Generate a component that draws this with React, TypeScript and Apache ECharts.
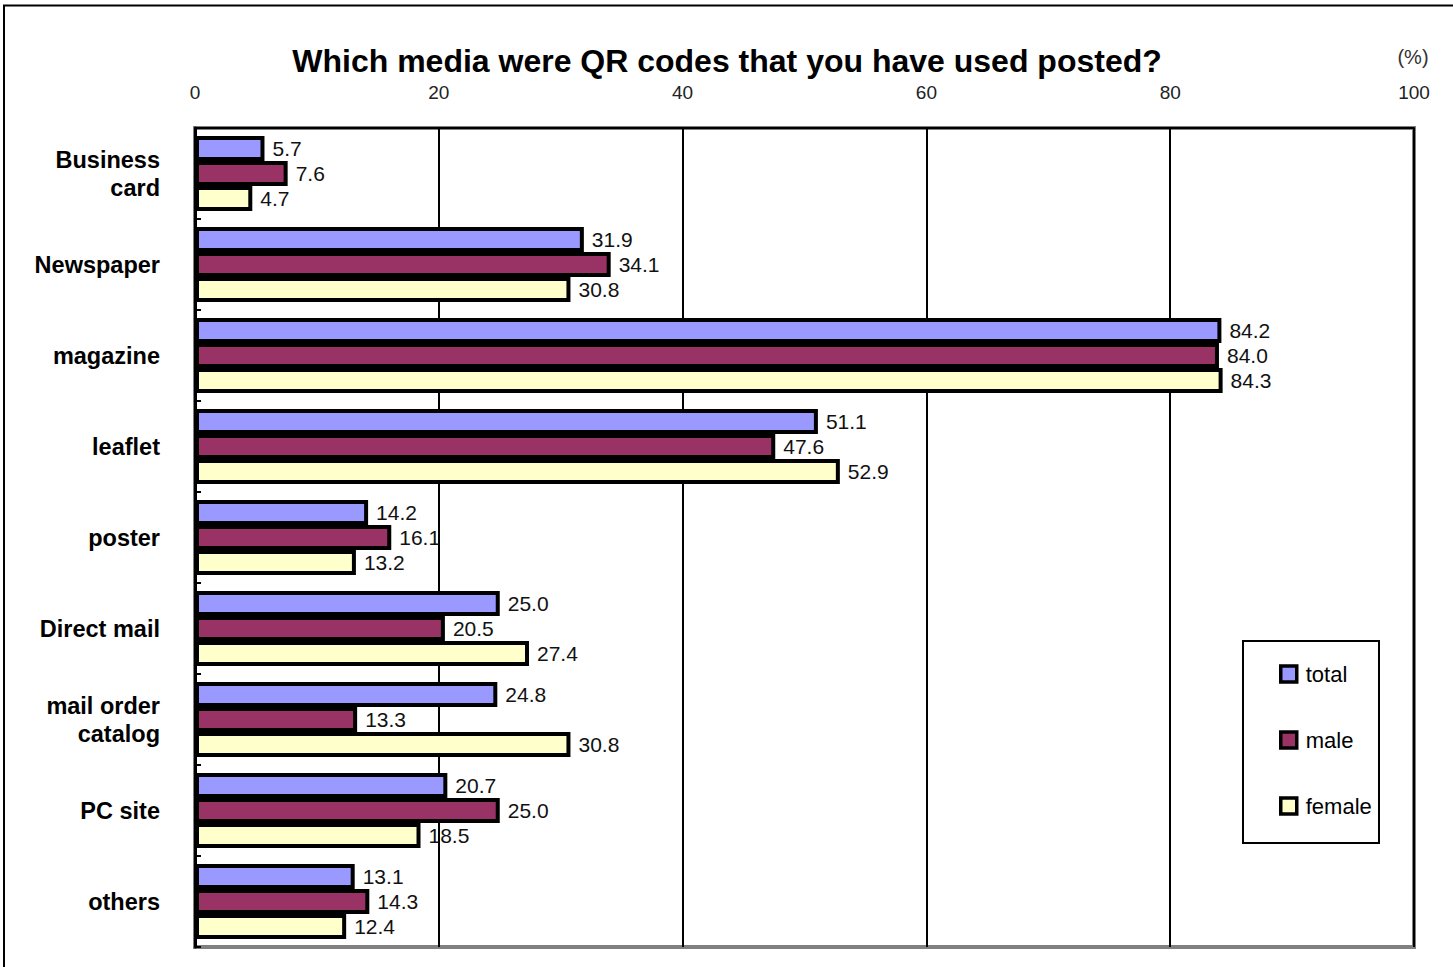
import React, { useEffect, useRef } from "react";
import * as echarts from "echarts";

const categories = [
  "Business\ncard",
  "Newspaper",
  "magazine",
  "leaflet",
  "poster",
  "Direct mail",
  "mail order\ncatalog",
  "PC site",
  "others",
];
const totalValues = [5.7, 31.9, 84.2, 51.1, 14.2, 25.0, 24.8, 20.7, 13.1];
const maleValues = [7.6, 34.1, 84.0, 47.6, 16.1, 20.5, 13.3, 25.0, 14.3];
const femaleValues = [4.7, 30.8, 84.3, 52.9, 13.2, 27.4, 30.8, 18.5, 12.4];
const seriesNames = ["total", "male", "female"];
const seriesColors = ["#9999FF", "#993366", "#FFFFCC"];
const titleText = "Which media were QR codes that you have used posted?";
const unitText = "(%)";

export default function App() {
  const ref = useRef<HTMLDivElement>(null);
  useEffect(() => {
    if (!ref.current) return;
    const chart = echarts.init(ref.current, null, { renderer: "svg" });
    const dataSets = [totalValues, maleValues, femaleValues];
    const series = dataSets.map((d, i) => ({
      name: seriesNames[i],
      type: "bar",
      data: d,
      barWidth: 25,
      barGap: "0%",
      itemStyle: { color: seriesColors[i], borderColor: "#000", borderWidth: 4 },
      label: {
        show: true,
        position: "right",
        distance: 8,
        formatter: (p: any) => Number(p.value).toFixed(1),
        fontFamily: "Liberation Sans, Arial, sans-serif",
        fontSize: 21,
        color: "#111",
      },
      z: 3,
    }));
    chart.setOption({
      animation: false,
      backgroundColor: "#fff",
      title: {
        text: titleText,
        left: 722,
        textAlign: "center",
        top: 40,
        textStyle: {
          fontFamily: "Liberation Sans, Arial, sans-serif",
          fontSize: 32,
          fontWeight: "bold",
          color: "#000",
        },
      },
      legend: {
        orient: "vertical",
        left: 1274,
        top: 658,
        itemWidth: 16,
        itemHeight: 16,
        itemGap: 44,
        data: seriesNames,
        icon: "rect",
        itemStyle: { borderColor: "#000", borderWidth: 3.5 },
        textStyle: {
          fontFamily: "Liberation Sans, Arial, sans-serif",
          fontSize: 22,
          color: "#000",
          padding: [0, 0, 0, 4],
        },
        z: 10,
      },
      grid: {
        left: 195,
        top: 128,
        width: 1219,
        height: 819,
        show: true,
        borderColor: "#808080",
        borderWidth: 4,
        backgroundColor: "transparent",
      },
      xAxis: {
        type: "value",
        position: "top",
        min: 0,
        max: 100,
        interval: 20,
        axisLine: { show: true, lineStyle: { color: "#000", width: 2 } },
        axisTick: { show: false },
        axisLabel: {
          margin: 26,
          fontFamily: "Liberation Sans, Arial, sans-serif",
          fontSize: 19,
          color: "#222",
        },
        splitLine: { show: true, lineStyle: { color: "#000", width: 2 } },
      },
      yAxis: {
        type: "category",
        inverse: true,
        data: categories,
        axisLine: { show: true, lineStyle: { color: "#000", width: 3 } },
        axisTick: { show: true, inside: true, length: 6, lineStyle: { color: "#000", width: 2 } },
        axisLabel: {
          margin: 35,
          fontFamily: "Liberation Sans, Arial, sans-serif",
          fontSize: 23.5,
          fontWeight: "bold",
          lineHeight: 28,
          color: "#000",
        },
      },
      graphic: [
        {
          type: "line",
          shape: { x1: 3, y1: 5.5, x2: 1453, y2: 5.5 },
          style: { stroke: "#000", lineWidth: 2 },
        },
        {
          type: "line",
          shape: { x1: 4, y1: 5, x2: 4, y2: 967 },
          style: { stroke: "#000", lineWidth: 2 },
        },
        {
          type: "rect",
          shape: { x: 1243, y: 641, width: 136, height: 202 },
          style: { fill: "#fff", stroke: "#000", lineWidth: 2 },
          z: 1,
        },
        {
          type: "text",
          x: 1413,
          y: 57,
          style: {
            text: unitText,
            fontFamily: "Liberation Sans, Arial, sans-serif",
            fontSize: 20,
            fill: "#333",
            align: "center",
            verticalAlign: "middle",
          },
        },
      ],
      series,
    });
    return () => chart.dispose();
  }, []);
  return (
    <div
      ref={ref}
      style={{ position: "fixed", left: 0, top: 0, width: 1453, height: 967 }}
    />
  );
}
